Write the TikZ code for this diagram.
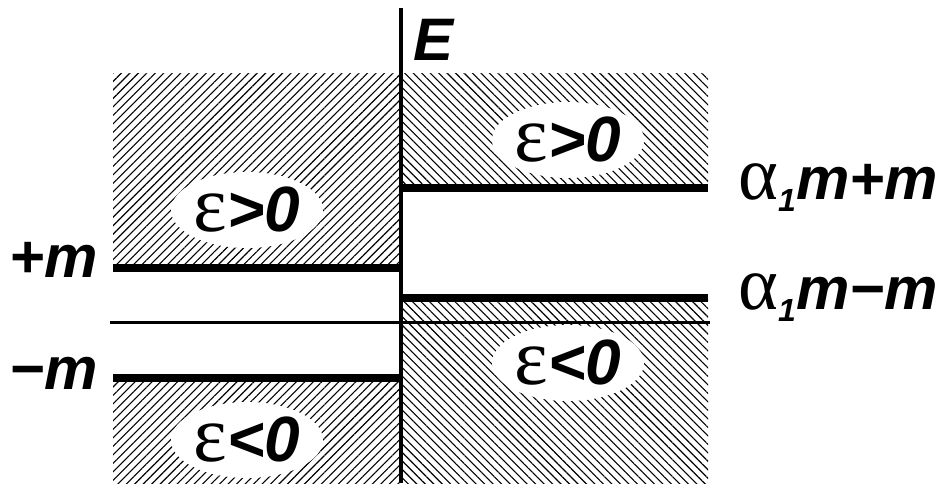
\documentclass[tikz,border=0pt]{standalone}
\usepackage{fontspec}
\setmainfont{Liberation Sans}
\newfontfamily\greekfont{Liberation Serif}
\usetikzlibrary{patterns.meta,shapes.geometric}
\tikzset{
  lhatch/.style={pattern={Lines[angle=45,distance=3pt,line width=0.55pt]}},
  rhatch/.style={pattern={Lines[angle=-45,distance=3pt,line width=0.55pt]}},
  level/.style={line width=4pt},
  zeroline/.style={line width=1.5pt},
  axisline/.style={line width=2pt},
  elab/.style={ellipse,fill=white,inner sep=0pt,minimum width=76pt,minimum height=38pt,
    font=\fontsize{32}{32}\selectfont\bfseries\itshape},
  vlab/.style={inner sep=0pt,font=\fontsize{30}{30}\selectfont\bfseries\itshape}
}
\newcommand{\eps}{{\greekfont\fontsize{40}{40}\selectfont\mdseries\upshape ε}}
\newcommand{\alp}{{\greekfont\fontsize{38}{38}\selectfont\mdseries\upshape α}}
\newcommand{\one}{\raisebox{-6pt}{\fontsize{16}{16}\selectfont 1}}

\begin{document}
\begin{tikzpicture}[x=0.5pt,y=-0.5pt]
  \useasboundingbox (0,0) rectangle (951,483);
  % hatched bands
  \fill[lhatch] (113,73) rectangle (401,268);
  \fill[lhatch] (113,378) rectangle (401,483);
  \fill[rhatch] (401,73) rectangle (708,188);
  \fill[rhatch] (401,298) rectangle (708,483);
  % sign of epsilon
  \node[elab] (lp) at (247,210) {\eps>0};
  \node[elab] (rp) at (568,140) {\eps>0};
  \node[elab] (rn) at (568,363) {\eps<0};
  \node[elab] (ln) at (247,440) {\eps<0};
  % levels
  \coordinate (pl) at (113,268); \coordinate (pr) at (401,268);
  \coordinate (ml) at (113,378); \coordinate (mr) at (401,378);
  \coordinate (ul) at (401,188); \coordinate (ur) at (708,188);
  \coordinate (dl) at (401,298); \coordinate (dr) at (708,298);
  \draw[level] (pl) -- (pr);
  \draw[level] (ml) -- (mr);
  \draw[level] (ul) -- (ur);
  \draw[level] (dl) -- (dr);
  \coordinate (zl) at (110,322); \coordinate (zr) at (710,322);
  \draw[zeroline] (zl) -- (zr);
  % energy axis
  \coordinate (ab) at (401,483); \coordinate (at) at (401,8);
  \draw[axisline] (ab) -- (at);
  \node[vlab,anchor=west] (E) at (413,40) {E};
  \node[vlab,anchor=west] (pm) at (9,260) {+m};
  \node[vlab,anchor=west] (mm) at (9,373) {−m};
  \node[vlab,anchor=west] (up) at (738,188) {\alp\one m+m};
  \node[vlab,anchor=west] (dn) at (738,298) {\alp\one m−m};
\end{tikzpicture}
\end{document}
